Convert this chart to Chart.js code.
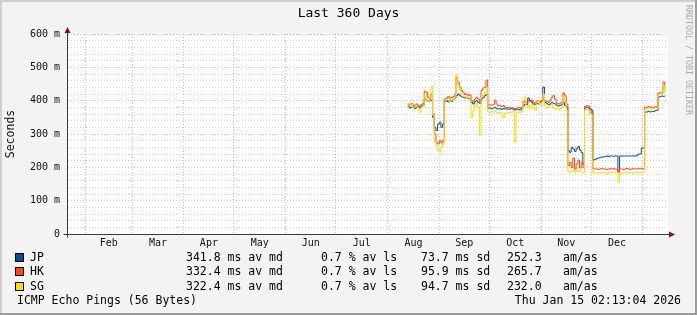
<!DOCTYPE html>
<html>
<head>
<meta charset="utf-8">
<title>Last 360 Days</title>
<script src="https://cdn.jsdelivr.net/npm/chart.js@4.4.1/dist/chart.umd.min.js"></script>
<style>
    html, body { margin: 0; padding: 0; background: #f3f3f3; }
    #wrap { width: 697px; height: 315px; }
</style>
</head>
<body>
<div id="wrap"><canvas id="pingChart" width="697" height="315"></canvas></div>
<script>
(function () {
    "use strict";

    // x positions are days counted from the left edge of the graph (Jan 20 2025 .. Jan 15 2026)
    const days = [
        204, 205, 206, 207, 208, 209, 210, 211, 212, 213, 214, 215, 216, 217, 218, 219, 220, 221, 222, 223,
        224, 225, 226, 227, 228, 229, 230, 231, 232, 233, 234, 235, 236, 237, 238, 239, 240, 241, 242, 243,
        244, 245, 246, 247, 248, 249, 250, 251, 252, 253, 254, 255, 256, 257, 258, 259, 260, 261, 262, 263,
        264, 265, 266, 267, 268, 269, 270, 271, 272, 273, 274, 275, 276, 277, 278, 279, 280, 281, 282, 283,
        284, 285, 286, 287, 288, 289, 290, 291, 292, 293, 294, 295, 296, 297, 298, 299, 300, 301, 302, 303,
        304, 305, 306, 307, 308, 309, 310, 311, 312, 313, 314, 315, 316, 317, 318, 319, 320, 321, 322, 323,
        324, 325, 326, 327, 328, 329, 330, 331, 332, 333, 334, 335, 336, 337, 338, 339, 340, 341, 342, 343,
        344, 345, 346, 347, 348, 349, 350, 351, 352, 353, 354, 355, 356, 357, 358
    ];

    // median RTT in ms
    const jpValues = [
        384, 378, 380, 384, 376, 380, 382, 378, 384, 386, 405, 400, 398, 402, 400, 350, 320, 310, 330, 335,
        320, 330, 398, 400, 396, 402, 398, 404, 408, 415, 420, 415, 412, 410, 408, 410, 406, 405, 395, 390,
        398, 400, 395, 392, 405, 410, 415, 418, 378, 378, 376, 378, 380, 376, 375, 376, 374, 376, 375, 376,
        374, 375, 376, 374, 372, 375, 374, 372, 376, 385, 390, 388, 408, 400, 395, 390, 388, 392, 390, 395,
        398, 441, 395, 392, 388, 390, 395, 392, 390, 386, 384, 386, 388, 395, 385, 380, 250, 245, 260, 255,
        248, 256, 262, 252, 244, 210, 378, 380, 378, 376, 372, 222, 224, 226, 228, 230, 231, 231, 232, 234,
        232, 234, 234, 233, 234, 234, 186, 234, 234, 234, 234, 234, 234, 234, 234, 234, 234, 235, 240, 240,
        258, 258, 366, 366, 368, 366, 368, 367, 370, 371, 411, 412, 414, 413, 415
    ];
    const hkValues = [
        390, 386, 392, 387, 383, 390, 385, 384, 388, 392, 428, 425, 410, 405, 420, 360, 300, 275, 270, 280,
        273, 280, 405, 408, 412, 408, 410, 412, 418, 470, 455, 440, 430, 425, 418, 420, 415, 418, 400, 395,
        405, 410, 405, 398, 430, 438, 440, 462, 388, 387, 386, 388, 402, 390, 384, 386, 382, 385, 380, 378,
        380, 378, 379, 378, 376, 378, 380, 378, 380, 396, 398, 395, 400, 398, 402, 396, 392, 398, 400, 398,
        400, 405, 400, 398, 395, 400, 410, 415, 405, 392, 390, 392, 395, 423, 415, 390, 205, 215, 200, 228,
        195, 210, 222, 198, 215, 200, 383, 385, 384, 370, 362, 196, 195, 195, 194, 195, 196, 195, 195, 193,
        195, 196, 195, 196, 195, 194, 186, 195, 195, 194, 195, 196, 195, 194, 195, 196, 195, 195, 196, 197,
        195, 196, 381, 380, 382, 380, 381, 380, 382, 383, 423, 424, 422, 456, 430
    ];
    const sgValues = [
        387, 384, 390, 380, 382, 386, 375, 365, 380, 385, 420, 400, 396, 408, 444, 357, 280, 265, 250, 245,
        262, 270, 400, 404, 406, 398, 402, 405, 410, 478, 445, 430, 420, 412, 414, 408, 410, 404, 350, 370,
        385, 392, 380, 297, 410, 420, 425, 440, 366, 366, 368, 365, 370, 364, 362, 365, 360, 348, 362, 365,
        364, 366, 365, 368, 276, 365, 366, 364, 368, 400, 411, 380, 385, 375, 390, 380, 372, 395, 400, 390,
        385, 420, 385, 380, 378, 385, 390, 380, 375, 378, 372, 376, 380, 415, 395, 370, 190, 185, 188, 195,
        184, 192, 188, 190, 186, 184, 372, 374, 372, 360, 357, 184, 183, 185, 183, 184, 183, 185, 184, 180,
        184, 183, 185, 184, 183, 183, 156, 184, 183, 184, 185, 184, 183, 184, 185, 184, 183, 184, 185, 183,
        184, 185, 375, 374, 375, 374, 376, 375, 377, 378, 418, 418, 420, 445, 425
    ];

    const seriesNames = ['JP', 'HK', 'SG'];
    const avgMedian = ['341.8', '332.4', '322.4'];
    const avgLoss = ['0.7', '0.7', '0.7'];
    const stdDev = ['73.7', '95.9', '94.7'];
    const amAs = ['252.3', '265.7', '232.0'];

    // first day of each month (Feb .. Jan) and the month names
    const monthStarts = [11, 39, 70, 100, 131, 161, 192, 223, 253, 284, 314, 345];
    const monthLabels = ['Feb', 'Mar', 'Apr', 'May', 'Jun', 'Jul', 'Aug', 'Sep', 'Oct', 'Nov', 'Dec'];
    const yMajorTicks = [0, 100, 200, 300, 400, 500, 600];

    const colors = ['#0c4e8c', '#fb4a17', '#ffd816'];
    const mono = 'DejaVu Sans Mono';
    const majorGrid = 'rgba(230,110,110,0.5)';
    const minorGrid = 'rgba(150,150,150,0.4)';

    /* tick lists for the axes */
    const monthMids = {};
    const xTickValues = monthStarts.slice();
    for (let i = 0; i < monthLabels.length; i++) {
        const mid = (monthStarts[i] + monthStarts[i + 1]) / 2;
        monthMids[mid] = monthLabels[i];
        xTickValues.push(mid);
    }
    xTickValues.sort(function (a, b) { return a - b; });
    const yTickValues = [];
    for (let v = 0; v <= 600; v += 20) yTickValues.push(v);

    function toPoints(vals) {
        return vals.map(function (v, i) { return { x: days[i], y: v }; });
    }

    /* rrdtool look: grey canvas, 3d frame, arrows, legend block */
    const rrdFrame = {
        id: 'rrdFrame',
        beforeDraw: function (chart) {
            const ctx = chart.ctx, a = chart.chartArea, w = chart.width, h = chart.height;
            ctx.save();
            ctx.fillStyle = '#f3f3f3';
            ctx.fillRect(0, 0, w, h);
            ctx.fillStyle = '#cfcfcf';
            ctx.fillRect(0, 0, w, 2);
            ctx.fillRect(0, 0, 2, h);
            ctx.fillStyle = '#9d9d9d';
            ctx.fillRect(0, h - 2, w, 2);
            ctx.fillRect(w - 2, 0, 2, h);
            ctx.fillStyle = '#ffffff';
            ctx.fillRect(a.left, a.top, a.right - a.left, a.bottom - a.top);
            ctx.restore();
        },
        afterDraw: function (chart) {
            const ctx = chart.ctx, a = chart.chartArea;
            const x0 = Math.round(a.left) + 0.5, y0 = Math.round(a.bottom) + 0.5;
            ctx.save();

            // axis stubs
            ctx.strokeStyle = '#3c3c3c';
            ctx.lineWidth = 1;
            ctx.beginPath();
            ctx.moveTo(x0 - 4, y0); ctx.lineTo(a.right + 2, y0);
            ctx.moveTo(x0, y0 + 3); ctx.lineTo(x0, a.top - 2);
            ctx.stroke();

            // arrows
            ctx.fillStyle = '#8b1010';
            ctx.beginPath();
            ctx.moveTo(x0 - 3, a.top - 1); ctx.lineTo(x0 + 3, a.top - 1); ctx.lineTo(x0, a.top - 7);
            ctx.closePath(); ctx.fill();
            ctx.beginPath();
            ctx.moveTo(a.right + 1, y0 - 3); ctx.lineTo(a.right + 1, y0 + 3); ctx.lineTo(a.right + 7, y0);
            ctx.closePath(); ctx.fill();

            // title
            ctx.fillStyle = '#000';
            ctx.textBaseline = 'middle';
            ctx.textAlign = 'center';
            ctx.font = '13px "' + mono + '"';
            ctx.fillText('Last 360 Days', chart.width / 2, 14);

            // legend
            ctx.font = '11.5px "' + mono + '"';
            ctx.textAlign = 'left';
            const rowY = [258, 272, 287];
            for (let i = 0; i < seriesNames.length; i++) {
                const y = rowY[i];
                ctx.fillStyle = colors[i];
                ctx.fillRect(15, y - 4, 8, 8);
                ctx.strokeStyle = '#000';
                ctx.strokeRect(15.5, y - 4.5, 8, 8);
                ctx.fillStyle = '#000';
                ctx.fillText(seriesNames[i], 30, y);
                ctx.fillText(avgMedian[i] + ' ms av md', 186, y);
                ctx.fillText(avgLoss[i] + ' % av ls', 321, y);
                ctx.fillText(stdDev[i] + ' ms sd', 421, y);
                ctx.fillText(amAs[i], 507, y);
                ctx.fillText('am/as', 563, y);
            }
            ctx.fillText('ICMP Echo Pings (56 Bytes)', 17, 301);
            ctx.textAlign = 'right';
            ctx.fillText('Thu Jan 15 02:13:04 2026', 681, 301);

            // watermark
            ctx.translate(688.5, 5);
            ctx.rotate(Math.PI / 2);
            ctx.textAlign = 'left';
            ctx.fillStyle = '#a9a9a9';
            ctx.font = '8.3px "' + mono + '"';
            ctx.fillText('RRDTOOL / TOBI OETIKER', 0, 0);
            ctx.restore();
        }
    };

    const ctx = document.getElementById('pingChart').getContext('2d');
    const chart = new Chart(ctx, {
        type: 'line',
        data: {
            datasets: [
                { label: 'JP', data: toPoints(jpValues), borderColor: colors[0], order: 3 },
                { label: 'HK', data: toPoints(hkValues), borderColor: colors[1], order: 2 },
                { label: 'SG', data: toPoints(sgValues), borderColor: colors[2], order: 1 }
            ]
        },
        options: {
            responsive: false,
            animation: false,
            devicePixelRatio: 1,
            elements: {
                line: { borderWidth: 1, stepped: 'before', tension: 0 },
                point: { radius: 0, hoverRadius: 0 }
            },
            layout: { padding: { top: 34, right: 29, bottom: 63, left: 0 } },
            plugins: {
                legend: { display: false },
                title: { display: false },
                tooltip: { enabled: false }
            },
            scales: {
                x: {
                    type: 'linear',
                    min: 0,
                    max: 360,
                    afterBuildTicks: function (scale) {
                        scale.ticks = xTickValues.map(function (v) { return { value: v }; });
                    },
                    afterFit: function (scale) { scale.height = 18; },
                    grid: {
                        drawTicks: false,
                        color: function (c) {
                            return c.tick && monthMids[c.tick.value] === undefined ? majorGrid : 'rgba(0,0,0,0)';
                        }
                    },
                    border: { display: true, color: '#3c3c3c', dash: [1, 2] },
                    ticks: {
                        autoSkip: false,
                        maxRotation: 0,
                        padding: 3,
                        color: '#111',
                        font: { family: mono, size: 10 },
                        callback: function (v) { return monthMids[v] || ''; }
                    }
                },
                y: {
                    min: 0,
                    max: 600,
                    afterBuildTicks: function (scale) {
                        scale.ticks = yTickValues.map(function (v) { return { value: v }; });
                    },
                    afterFit: function (scale) { scale.width = 67; },
                    grid: {
                        drawTicks: false,
                        color: function (c) {
                            if (!c.tick) return 'rgba(0,0,0,0)';
                            return yMajorTicks.indexOf(c.tick.value) >= 0 ? majorGrid : minorGrid;
                        }
                    },
                    border: { display: true, color: '#3c3c3c', dash: [1, 2] },
                    title: {
                        display: true,
                        text: 'Seconds',
                        color: '#111',
                        font: { family: mono, size: 11.5 },
                        padding: { top: 4, bottom: 0 }
                    },
                    ticks: {
                        autoSkip: false,
                        padding: 7,
                        color: '#111',
                        font: { family: mono, size: 10 },
                        callback: function (v) {
                            if (yMajorTicks.indexOf(v) < 0) return '';
                            return v === 0 ? '0' : v + ' m';
                        }
                    }
                }
            }
        },
        plugins: [rrdFrame]
    });
})();
</script>
</body>
</html>
